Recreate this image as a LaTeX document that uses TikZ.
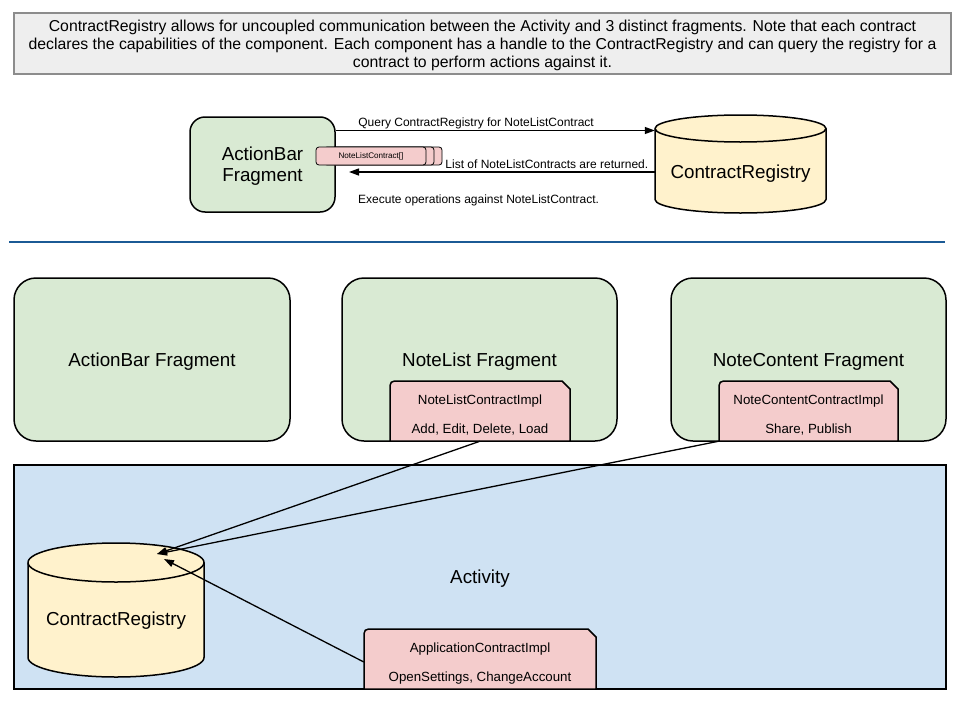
\documentclass[tikz,border=0pt]{standalone}
\usepackage{fontspec}
\setmainfont{Liberation Sans}
\usetikzlibrary{arrows.meta,positioning,shadows}

\definecolor{notegray}{HTML}{EEEEEE}
\definecolor{noteline}{HTML}{8C8C8C}
\definecolor{fraggreen}{HTML}{D9EAD3}
\definecolor{regyellow}{HTML}{FFF2CC}
\definecolor{implpink}{HTML}{F4CCCC}
\definecolor{actblue}{HTML}{CFE2F3}
\definecolor{sepblue}{HTML}{1B5A95}

\tikzset{
  note/.style={draw=noteline, line width=1.2pt, fill=notegray, minimum width=937pt, minimum height=61pt, text depth=0pt, align=center, font=\fontsize{15.8}{18}\selectfont},
  frag/.style={draw, line width=1.5pt, fill=fraggreen, rounded corners=22pt, text depth=0pt, font=\fontsize{18.8}{21}\selectfont, align=center},
  regbody/.style={minimum width=#1, inner sep=0pt},
  regtext/.style={font=\fontsize{18.8}{20}\selectfont},
  impl/.style={inner sep=0pt, minimum height=54pt, text depth=0pt, align=center, font=\fontsize{13.3}{14}\selectfont},
  implfill/.style={draw, line width=1.5pt, fill=implpink},
  actbox/.style={draw, line width=1.5pt, fill=actblue, text depth=0pt, font=\fontsize{18.8}{21}\selectfont},
  small/.style={inner sep=1pt, font=\fontsize{12}{13}\selectfont},
  stackdoc/.style={draw, line width=0.8pt, fill=implpink, rounded corners=3pt, minimum width=110pt, minimum height=18pt, inner sep=0pt, font=\fontsize{8.1}{9}\selectfont},
  flow/.style={-{Triangle[length=10pt,width=7pt]}, line width=1.3pt},
  sepline/.style={draw=sepblue, line width=2pt}
}

% cylinder: x, y, x radius, half height, y radius
\newcommand{\cylbox}[5]{%
  \filldraw[implfill, fill=regyellow, shift={(#1,#2)}] (-#3,-#4+#5) -- (-#3,#4-#5)
    arc[start angle=180, end angle=360, x radius=#3pt, y radius=#5pt] -- (#3,-#4+#5)
    arc[start angle=0, end angle=180, x radius=#3pt, y radius=#5pt] -- cycle;
  \draw[line width=1.5pt, shift={(#1,#2)}] (-#3,-#4+#5)
    arc[start angle=180, end angle=360, x radius=#3pt, y radius=#5pt];
}
% contract box: name, x, y, half width, text
\newcommand{\implnode}[5]{%
  \filldraw[implfill, shift={(#2,#3)}] (-#4,30) -- (-#4,-20) .. controls (-#4,-30) .. (-#4+10,-30)
    -- (#4-8,-30) -- (#4,-22) -- (#4,30) -- cycle;
  \node[impl, minimum width=2*#4 pt] (#1) at (#2,#3+3) {#5};
}

\begin{document}
\begin{tikzpicture}[x=1pt,y=-1pt]
\useasboundingbox (0,0) rectangle (960,720);

\node[note] (intro) at (482.5,43.5) {ContractRegistry allows for uncoupled communication between the Activity and 3 distinct fragments. Note that each contract\\declares the capabilities of the component. Each component has a handle to the ContractRegistry and can query the registry for a\\contract to perform actions against it.};

% top: query round trip
\node[frag, rounded corners=15pt, minimum width=145pt, minimum height=95pt] (abtop) at (262.5,164.5) {ActionBar\\Fragment};
\cylbox{740.5}{164}{85.5}{49}{13.5}
\node[regbody=171pt, minimum height=98pt, label={[regtext,yshift=-10pt]center:ContractRegistry}] (topreg) at (740.5,164) {};
\coordinate (ret) at (349,172);

\draw[flow] ([yshift=34pt]abtop.east) -- ([yshift=34pt]abtop.east -| topreg.west)
  node[pos=0, small, anchor=south west, xshift=21pt] (qtext) {Query ContractRegistry for NoteListContract};
\draw[flow] (topreg.west |- ret) -- (ret)
  node[pos=0.69, small, anchor=south west, yshift=2pt] (rettext) {List of NoteListContracts are returned.};
\node[small, anchor=west] (exectext) at (357,200) {Execute operations against NoteListContract.};
\node[stackdoc, double copy shadow={shadow xshift=8pt, shadow yshift=0pt}] (nlstack) at (371,156) {NoteListContract[]};

\draw[sepline] (9,242) -- (945,242);

% fragments
\node[frag, minimum width=276pt, minimum height=163pt] (abfrag) at (152,359.5) {ActionBar Fragment};
\node[frag, minimum width=275pt, minimum height=163pt] (nlfrag) at (479.5,359.5) {NoteList Fragment};
\node[frag, minimum width=275pt, minimum height=163pt] (ncfrag) at (808.5,359.5) {NoteContent Fragment};
\implnode{nlimpl}{480}{411}{90}{NoteListContractImpl\\[15pt]Add, Edit, Delete, Load}
\implnode{ncimpl}{808.5}{411}{89.5}{NoteContentContractImpl\\[15pt]Share, Publish}

% activity
\node[actbox, minimum width=932pt, minimum height=224pt] (activity) at (480,577) {Activity};
\cylbox{116}{610}{88}{67}{19.5}
\node[regbody=176pt, minimum height=134pt, label={[regtext,yshift=-11pt]center:ContractRegistry}] (botreg) at (116,610) {};
\implnode{appimpl}{480}{659}{116}{ApplicationContractImpl\\[15pt]OpenSettings, ChangeAccount}
\coordinate (regin) at (157,554);
\coordinate (regin2) at (164,559);

\draw[flow] (nlimpl.south) -- (regin);
\draw[flow] (ncimpl.south west) -- (regin);
\draw[flow] (appimpl.west) -- (regin2);
\end{tikzpicture}
\end{document}
